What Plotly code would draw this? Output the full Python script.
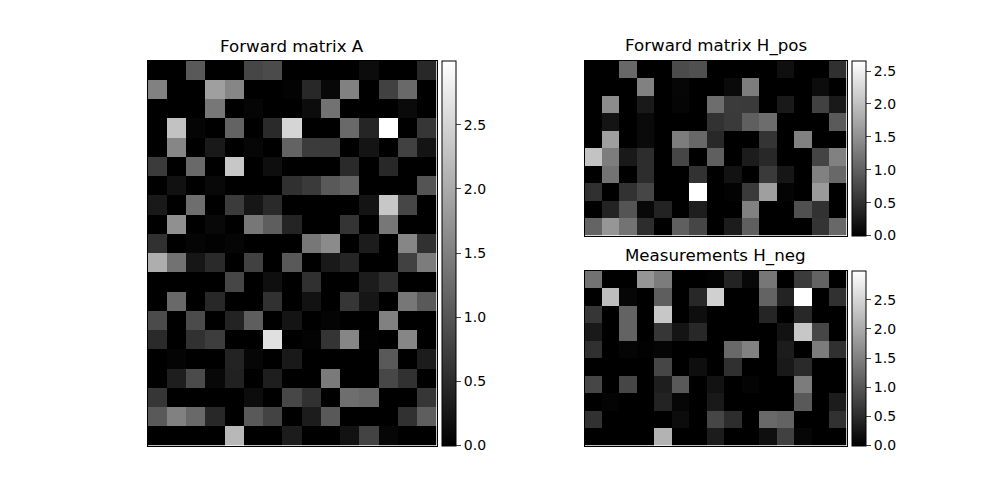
import plotly.graph_objects as go

# valores (15 columnas)
matrix_a = [
    [0, 0, 1.05, 0, 0, .82, .88, 0, 0, 0, 0, .14, 0, 0, .47],
    [1.52, 0, 0, 1.87, 1.58, 0, 0, .04, .47, .09, 1.52, 0, .76, 1.23, 0],
    [0, 0, 0, 1.40, 0, .06, 0, 0, .14, 1.34, 0, 0, 0, .12, 0],
    [0, 2.28, .06, 0, 1.17, 0, .49, 2.51, 0, 0, 1.23, .44, 3.0, 0, .64],
    [0, 1.58, 0, .29, 0, .07, 0, 1.17, .70, .68, 0, .23, 0, .76, .23],
    [.70, 0, 1.23, 0, 2.34, 0, .16, 0, 0, 0, .49, 0, .47, 0, 0],
    [0, .20, 0, .09, 0, 0, 0, .56, .68, 1.05, 1.17, 0, 0, 0, .99],
    [.29, 0, 1.29, 0, .70, .26, .49, 0, 0, 0, 0, .23, 2.34, .82, 0],
    [0, 1.69, 0, .09, 0, 1.40, 1.11, .42, 0, 0, .61, 0, 1.40, 0, 0],
    [.58, 0, .06, .02, .06, 0, 0, 0, 1.40, 1.64, 0, .33, 0, 1.58, .58],
    [2.05, 1.34, .26, .49, 0, .76, 0, 1.05, 0, .29, .44, 0, 0, .76, 1.46],
    [0, 0, 0, 0, .82, 0, .18, 0, .56, 0, 0, .33, .53, 0, 0],
    [0, 1.23, 0, .47, 0, 0, .58, 0, .21, 0, .64, .26, 0, 1.40, 1.05],
    [.88, 0, .88, 0, .41, 1.11, 0, .23, 0, .05, 0, 0, 1.52, 0, 0],
    [.49, 0, .58, .72, 0, 0, 2.63, 0, .04, .61, 1.58, .02, 0, 1.58, 0],
    [0, .05, 0, 0, .41, .07, 0, .29, 0, 0, 0, 0, 1.05, 0, .33],
    [0, .35, .88, .09, .39, 0, .35, 0, 0, 1.43, 0, 0, .84, .58, 0],
    [.64, 0, 0, 0, 0, .14, 0, .84, .58, 0, 1.29, 1.23, 0, 0, .64],
    [1.05, 1.52, 1.23, .47, 0, 1.05, .79, 0, .33, 1.05, 0, 0, 0, .58, 1.11],
    [0, 0, 0, 0, 2.16, 0, 0, .33, 0, 0, .21, .79, .07, 0, 0],
]

matrix_h_pos = [
    [0, 0, 1.09, 0, 0, .78, .83, 0, 0, 0, 0, .16, 0, 0, .50],
    [0, 0, 0, 1.35, 0, .06, 0, 0, .10, 1.30, 0, 0, 0, .12, 0],
    [0, 1.46, 0, .26, 0, .05, 0, 1.14, .62, .60, 0, .26, 0, .68, .26],
    [0, .21, 0, .10, 0, 0, 0, .52, .60, .99, 1.14, 0, 0, 0, .94],
    [0, 1.66, 0, .10, 0, 1.30, 1.09, .42, 0, 0, .54, 0, 1.35, 0, 0],
    [2.03, 1.30, .26, .47, 0, .73, 0, .99, 0, .29, .42, 0, 0, .71, 1.35],
    [0, 1.20, 0, .47, 0, 0, .52, 0, .19, 0, .60, .23, 0, 1.35, 1.09],
    [.50, 0, .52, .73, 0, 0, 2.66, 0, .03, .60, 1.66, .04, 0, 1.61, 0],
    [0, .36, .88, .08, .37, 0, .31, 0, 0, 1.35, 0, 0, .83, .52, 0],
    [1.04, 1.56, 1.20, .47, 0, .99, .73, 0, .29, .99, 0, 0, 0, .54, 1.09],
]

matrix_h_neg = [
    [1.34, 0, 0, 1.75, 1.46, 0, 0, .04, .41, .09, 1.40, 0, .70, 1.17, 0],
    [0, 2.22, .07, 0, 1.11, 0, .47, 2.45, 0, 0, 1.17, .41, 3.0, 0, .58],
    [.64, 0, 1.17, 0, 2.34, 0, .16, 0, 0, 0, .44, 0, .47, 0, 0],
    [.29, 0, 1.17, 0, .64, .23, .47, 0, 0, 0, 0, .21, 2.34, .82, 0],
    [.56, 0, .06, .02, .06, 0, 0, 0, 1.23, 1.52, 0, .33, 0, 1.46, .56],
    [0, 0, 0, 0, .82, 0, .16, 0, .56, 0, 0, .29, .49, 0, 0],
    [.82, 0, .82, 0, .35, 1.05, 0, .21, 0, .05, 0, 0, 1.46, 0, 0],
    [0, .05, 0, 0, .41, .07, 0, .29, 0, 0, 0, 0, 1.05, 0, .33],
    [.58, 0, 0, 0, 0, .14, 0, .82, .53, 0, 1.23, 1.17, 0, 0, .58],
    [0, 0, 0, 0, 2.10, 0, 0, .33, 0, 0, .18, .76, .07, 0, 0],
]

ticks_a = [0, .5, 1, 1.5, 2, 2.5]
ticks_pos = [0, .5, 1, 1.5, 2, 2.5]
ticks_neg = [0, .5, 1, 1.5, 2, 2.5]

W, H = 1000, 500
FONT = "DejaVu Sans"

# paneles en pixeles: titulo, matriz, ticks, x0, x1, y0, y1
panels = [
    ("Forward matrix A", matrix_a, ticks_a, 147.5, 436.5, 60.5, 445.5),
    ("Forward matrix H_pos", matrix_h_pos, ticks_pos, 584.5, 846.5, 60.5, 235.5),
    ("Measurements H_neg", matrix_h_neg, ticks_neg, 584.5, 846.5, 270.5, 445.5),
]

fig = go.Figure()
layout_axes = {}
annotations = []

for i, (title, z, ticks, x0, x1, y0, y1) in enumerate(panels, start=1):
    fig.add_trace(go.Heatmap(
        z=z,
        xaxis=f"x{i}",
        yaxis=f"y{i}",
        zmin=0,
        zmax=max(max(row) for row in z),
        colorscale=[[0, "#000000"], [1, "#ffffff"]],
        colorbar=dict(
            x=(x1 + 5) / W,
            xanchor="left",
            xpad=0,
            y=1 - y1 / H,
            yanchor="bottom",
            ypad=0,
            len=(y1 - y0) / H,
            lenmode="fraction",
            thickness=14,
            thicknessmode="pixels",
            outlinewidth=1,
            outlinecolor="#000000",
            tickvals=ticks,
            tickformat=".1f",
            ticks="outside",
            ticklen=5,
            tickwidth=1,
            tickfont=dict(family=FONT, size=14, color="#000000"),
        ),
    ))
    layout_axes[f"xaxis{i}"] = dict(
        domain=[x0 / W, x1 / W],
        anchor=f"y{i}",
        range=[-0.5, len(z[0]) - 0.5],
        showticklabels=False,
        ticks="",
        showgrid=False,
        zeroline=False,
        showline=True,
        linecolor="#000000",
        linewidth=1,
        mirror=True,
    )
    layout_axes[f"yaxis{i}"] = dict(
        domain=[1 - y1 / H, 1 - y0 / H],
        anchor=f"x{i}",
        range=[len(z) - 0.5, -0.5],
        showticklabels=False,
        ticks="",
        showgrid=False,
        zeroline=False,
        showline=True,
        linecolor="#000000",
        linewidth=1,
        mirror=True,
    )
    annotations.append(dict(
        text=title,
        xref="paper",
        yref="paper",
        x=(x0 + x1) / 2 / W,
        y=1 - (y0 - 2.5) / H,
        xanchor="center",
        yanchor="bottom",
        showarrow=False,
        font=dict(family=FONT, size=16.67, color="#000000"),
    ))

fig.update_layout(
    width=W,
    height=H,
    margin=dict(l=0, r=0, t=0, b=0),
    paper_bgcolor="#ffffff",
    plot_bgcolor="#ffffff",
    annotations=annotations,
    **layout_axes,
)

# el navegador deja 8px de margen en body
fig.write_html(
    "out.html",
    config={"displayModeBar": False},
    post_script="document.body.style.margin = '0';",
)
